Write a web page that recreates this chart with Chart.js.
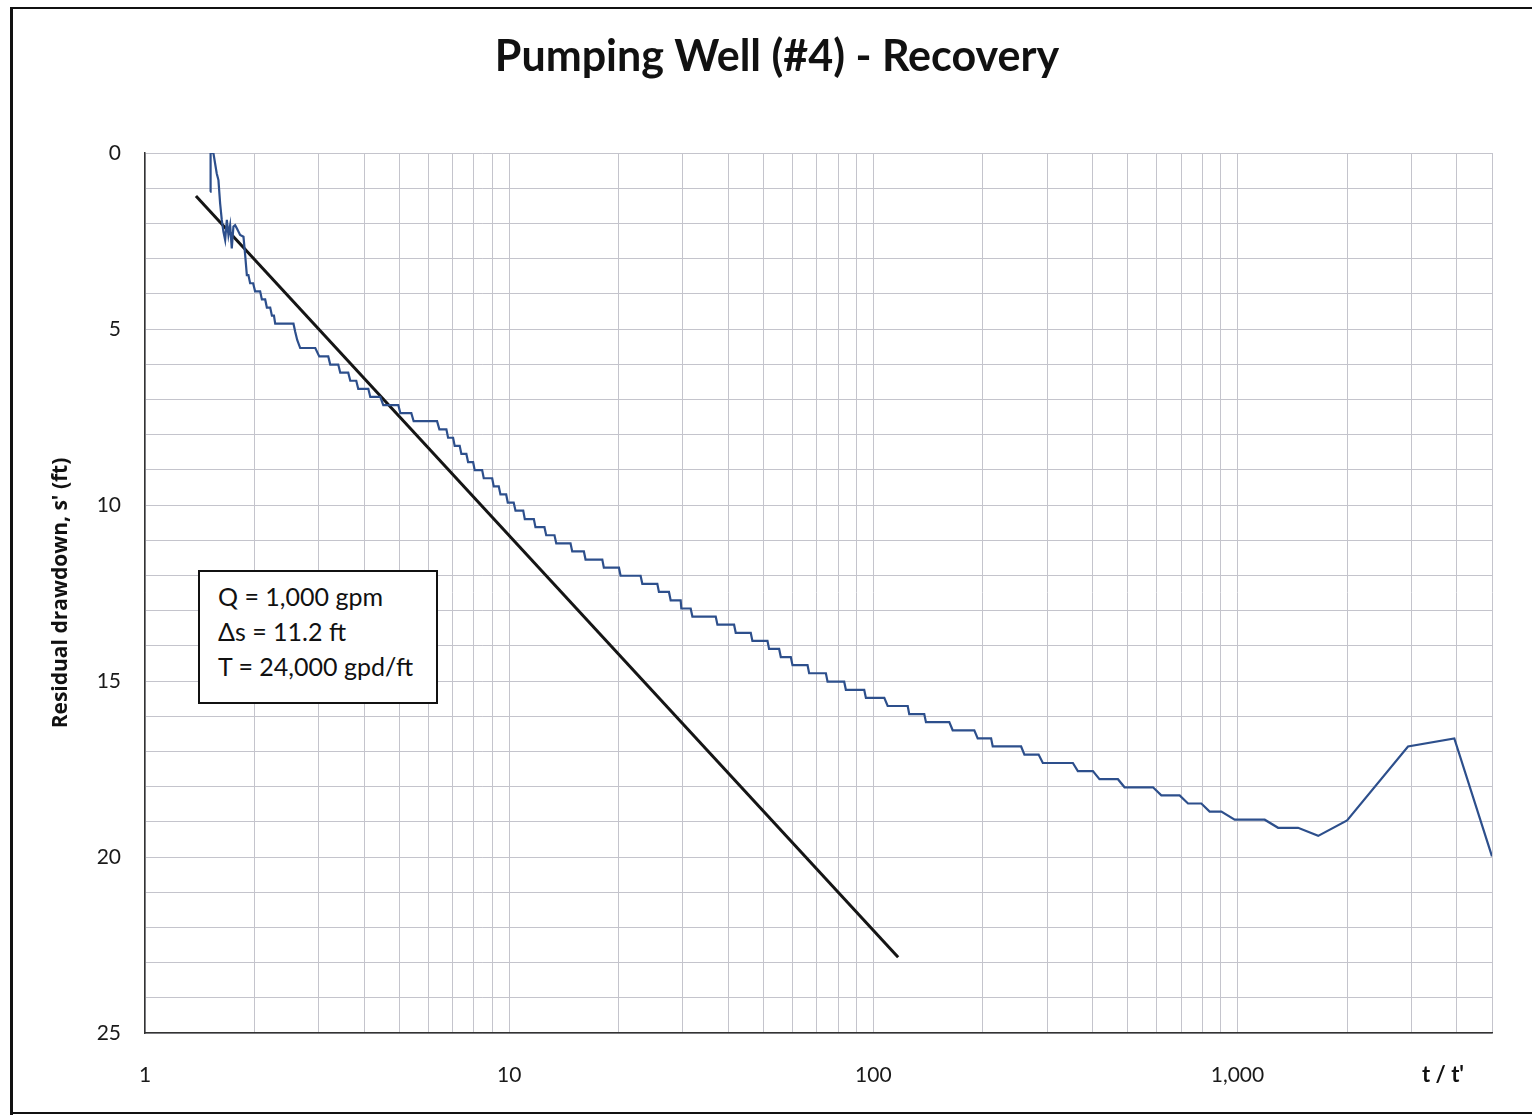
<!DOCTYPE html>
<html>
<head>
<meta charset="utf-8">
<script src="https://cdn.jsdelivr.net/npm/chart.js@4/dist/chart.umd.min.js"></script>
<style>
html,body{margin:0;padding:0;background:#fff;}
#wrap{position:relative;width:1532px;height:1116px;overflow:hidden;}
#c{position:absolute;left:0;top:0;}
.fr{position:absolute;background:#111;}
#title{position:absolute;left:0;width:1554px;top:29px;text-align:center;font:bold 43px Lato,"Open Sans",sans-serif;color:#111;}
#xname{position:absolute;left:1403px;width:80px;top:1060px;text-align:center;font:bold 22px Lato,"Open Sans",sans-serif;color:#111;}
#note{position:absolute;left:198px;top:570px;width:236px;height:130px;border:2px solid #111;background:#fff;font:25px Lato,"Open Sans",sans-serif;color:#111;}
#note div{position:absolute;left:18px;white-space:nowrap;}
</style>
</head>
<body>
<div id="wrap">
<canvas id="c" width="1532" height="1116"></canvas>
<div class="fr" style="left:10px;top:7px;width:3px;height:1108px;"></div>
<div class="fr" style="left:10px;top:7px;width:1522px;height:2px;"></div>
<div class="fr" style="left:10px;top:1112px;width:1522px;height:2px;"></div>
<div id="title">Pumping Well (#4) - Recovery</div>
<div id="xname">t / t'</div>
<div id="note">
  <div style="top:9px">Q = 1,000 gpm</div>
  <div style="top:44px">&Delta;s = 11.2 ft</div>
  <div style="top:79px">T = 24,000 gpd/ft</div>
</div>
</div>
<script>
// Recovery data: t/t' and residual drawdown s' (ft)
const ratioT = [
  1.509, 1.514, 1.541, 1.574, 1.591, 1.608, 1.625, 1.642, 1.660, 1.678,
  1.695, 1.713, 1.731, 1.749, 1.768, 1.787, 1.825, 1.864, 1.884,
  1.904, 1.923, 1.944, 1.981, 2.006, 2.071, 2.094, 2.138, 2.161, 2.207,
  2.231, 2.26, 2.278, 2.557, 2.585, 2.618, 2.668, 2.935,
  3.010, 3.186, 3.226, 3.394, 3.437, 3.615, 3.662, 3.803, 3.851, 4.104,
  4.156, 4.427, 4.511, 4.962, 5.025, 5.387, 5.467, 6.339, 6.433, 6.724,
  6.797, 7.015, 7.087, 7.314, 7.392, 7.630, 7.713, 7.962, 8.043, 8.430,
  8.516, 8.982, 9.072, 9.363, 9.464, 9.813, 9.913, 10.29, 10.41, 10.93,
  11.04, 11.69, 11.81, 12.50, 12.64, 13.32, 13.47, 14.74, 14.90, 16.04,
  16.21, 18.02, 18.20, 20.02, 20.23, 22.96, 23.21, 25.52, 25.78, 27.47,
  27.77, 29.58, 29.7, 31.51, 31.86, 36.92, 37.32, 41.46, 41.90, 46.07,
  46.56, 51.21, 51.73, 55.13, 55.72, 59.35, 59.99, 65.97, 66.64, 74.09,
  74.88, 83.18, 84.08, 94.41, 95.43, 107.2, 109.5, 124.3, 125.5, 138.0,
  139.5, 161.7, 165.2, 189.4, 193.5, 210.6, 212.8, 254.6, 260.0, 284.4,
  292.1, 353.2, 364.5, 400.9, 417.9, 469.6, 489.7, 586.2, 617.9, 693.7,
  731.6, 795.7, 838.6, 903.2, 982.5, 1188, 1293, 1467,
  1666, 2000, 2940, 3940, 5000
];
const drawdown = [
  1.10, 0.00, 0.00, 0.58, 0.77, 1.43, 1.90, 2.24, 2.47, 1.90,
  2.33, 2.05, 2.71, 2.09, 2.05, 2.14, 2.33, 2.38, 2.90,
  3.47, 3.47, 3.70, 3.70, 3.93, 3.93, 4.16, 4.16, 4.39, 4.39,
  4.62, 4.62, 4.85, 4.85, 5.08, 5.31, 5.54, 5.54,
  5.78, 5.78, 6.01, 6.01, 6.24, 6.24, 6.47, 6.47, 6.70, 6.70,
  6.93, 6.93, 7.16, 7.16, 7.39, 7.39, 7.62, 7.62, 7.85, 7.85,
  8.09, 8.09, 8.32, 8.32, 8.55, 8.55, 8.78, 8.78, 9.01, 9.01,
  9.24, 9.24, 9.47, 9.47, 9.70, 9.70, 9.93, 9.93, 10.16, 10.16,
  10.40, 10.40, 10.63, 10.63, 10.86, 10.86, 11.09, 11.09, 11.32, 11.32,
  11.55, 11.55, 11.78, 11.78, 12.01, 12.01, 12.24, 12.24, 12.47, 12.47,
  12.71, 12.71, 12.94, 12.94, 13.17, 13.17, 13.40, 13.40, 13.63, 13.63,
  13.86, 13.86, 14.09, 14.09, 14.32, 14.32, 14.55, 14.55, 14.78, 14.78,
  15.02, 15.02, 15.25, 15.25, 15.48, 15.48, 15.71, 15.71, 15.94, 15.94,
  16.17, 16.17, 16.40, 16.40, 16.63, 16.63, 16.86, 16.86, 17.09, 17.09,
  17.33, 17.33, 17.56, 17.56, 17.79, 17.79, 18.02, 18.02, 18.25, 18.25,
  18.48, 18.48, 18.71, 18.71, 18.94, 18.94, 19.17, 19.17,
  19.40, 18.96, 16.86, 16.63, 19.98
];
// Straight-line (Cooper-Jacob) fit
const fitRatio = [1.38, 117];
const fitDrawdown = [1.22, 22.85];
// Axis ticks
const xGridValues = [1,2,3,4,5,6,7,8,9,10,20,30,40,50,60,70,80,90,100,200,300,400,500,600,700,800,900,1000,2000,3000,4000,5000];
const xLabelValues = [1, 10, 100, 1000];
const xLabelTexts = ['1', '10', '100', '1,000'];
const yLabelValues = [0, 5, 10, 15, 20, 25];

const recovery = ratioT.map((x, i) => ({x: x, y: drawdown[i]}));
const fitLine = fitRatio.map((x, i) => ({x: x, y: fitDrawdown[i]}));

const fontFam = 'Lato, "Open Sans", sans-serif';
new Chart(document.getElementById('c'), {
  type: 'line',
  data: {
    datasets: [
      {data: recovery, borderColor: '#2d4f8c', borderWidth: 2.2, pointRadius: 0, tension: 0, fill: false},
      {data: fitLine, borderColor: '#151515', borderWidth: 3, pointRadius: 0, tension: 0, fill: false}
    ]
  },
  options: {
    responsive: false,
    animation: false,
    events: [],
    layout: {padding: {top: 153, right: 40, left: 0, bottom: 0}},
    plugins: {legend: {display: false}, title: {display: false}, tooltip: {enabled: false}},
    scales: {
      x: {
        type: 'logarithmic',
        min: 1, max: 5000,
        afterBuildTicks: s => { s.ticks = xGridValues.map(v => ({value: v})); },
        afterFit: s => { s.height = 83; },
        grid: {color: '#c4c4cc', lineWidth: 1, drawTicks: false},
        border: {color: '#333', width: 1.5},
        ticks: {
          autoSkip: false, maxRotation: 0, padding: 30,
          color: '#1a1a1a', font: {family: fontFam, size: 21},
          callback: v => { const k = xLabelValues.indexOf(v); return k >= 0 ? xLabelTexts[k] : ''; }
        }
      },
      y: {
        min: 0, max: 25, reverse: true,
        afterFit: s => { s.width = 145; },
        grid: {color: '#c4c4cc', lineWidth: 1, drawTicks: false},
        border: {color: '#333', width: 1.5},
        ticks: {
          stepSize: 1, autoSkip: false, padding: 24,
          color: '#1a1a1a', font: {family: fontFam, size: 21},
          callback: v => yLabelValues.includes(v) ? String(v) : ''
        },
        title: {
          display: true, text: "Residual drawdown, s' (ft)",
          color: '#111', font: {family: '"Open Sans", Lato, sans-serif', size: 21, weight: 'bold'},
          padding: {top: 48, bottom: 0}
        }
      }
    }
  }
});
</script>
</body>
</html>
